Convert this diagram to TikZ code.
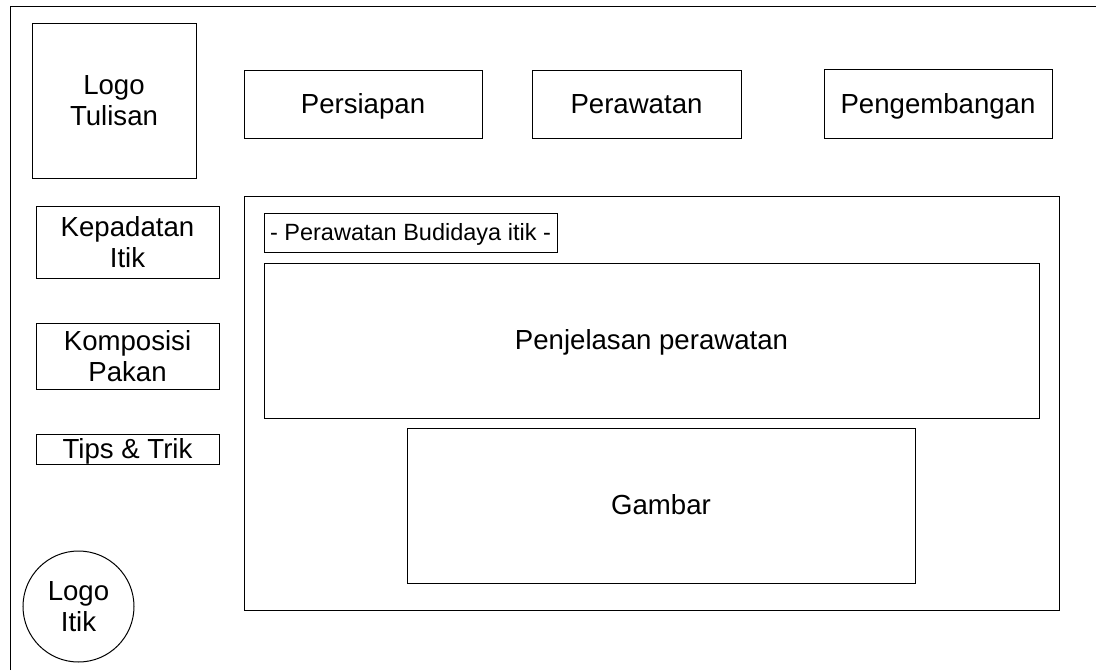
\documentclass[tikz,border=0pt]{standalone}
\usepackage{fontspec}
\setmainfont{Liberation Sans}
\begin{document}
\begin{tikzpicture}[x=1pt,y=-1pt,
  box/.style={draw=black,line width=1pt,inner sep=0pt,align=center,
    font=\fontsize{27.6}{31.5}\selectfont},
  oneline/.style={box,text height=21pt,text depth=2.5pt},
  smallbox/.style={box,font=\fontsize{23.5}{27}\selectfont,
    text height=17.5pt,text depth=2.5pt}]
\useasboundingbox (0,0) rectangle (1096,670);
\fill[white] (0,0) rectangle (1096,670);
% page frame, running off the right and bottom edges
\draw[line width=1pt] (10,670) -- (10,6) -- (1096,6);

% header
\node[box,minimum width=164pt,minimum height=155pt] (logoT) at (114,100.5) {Logo\\Tulisan};
\node[oneline,minimum width=238pt,minimum height=68pt] (persiapan) at (363,104) {Persiapan};
\node[oneline,minimum width=209pt,minimum height=68pt] (perawatan) at (636.5,104) {Perawatan};
\node[oneline,minimum width=228pt,minimum height=69pt] (pengembangan) at (938,104) {Pengembangan};

% side menu
\node[box,minimum width=183pt,minimum height=72pt] (kepadatan) at (127.5,242) {Kepadatan\\Itik};
\node[box,minimum width=183pt,minimum height=66pt] (komposisi) at (127.5,356) {Komposisi\\Pakan};
\node[oneline,minimum width=183pt,minimum height=30pt] (tips) at (127.5,449) {Tips \& Trik};
\node[box,circle,minimum size=111pt] (logoI) at (78.5,606.5) {Logo\\Itik};

% content panel
\node[box,minimum width=815pt,minimum height=414pt] (panel) at (651.5,403) {};
\node[smallbox,minimum width=293pt,minimum height=39pt] (judul) at (410.5,232.5) {- Perawatan Budidaya itik -};
\node[oneline,minimum width=775pt,minimum height=155pt] (penjelasan) at (651.5,340.5) {Penjelasan perawatan};
\node[oneline,minimum width=508pt,minimum height=155pt] (gambar) at (661,505.5) {Gambar};
\end{tikzpicture}
\end{document}
